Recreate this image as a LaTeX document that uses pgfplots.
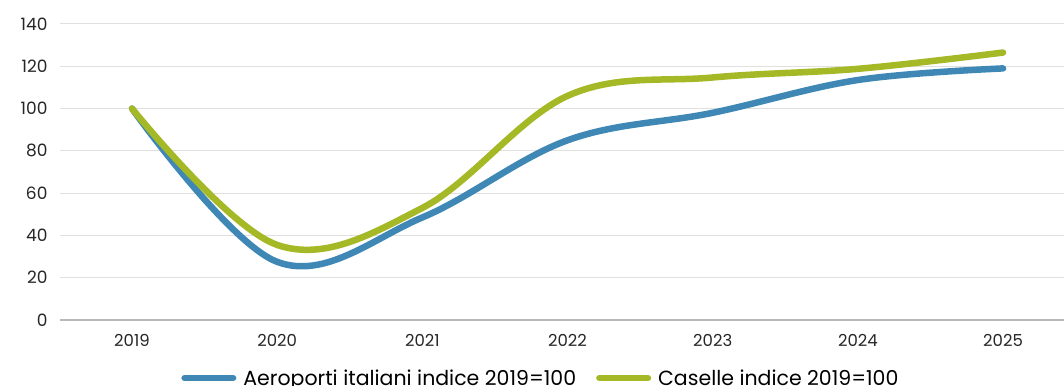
\documentclass[border=0pt]{standalone}
\usepackage{fontspec}
\setmainfont{Poppins}
\usepackage{pgfplots}
\pgfplotsset{compat=1.18}
\definecolor{cblue}{RGB}{63,136,181}
\definecolor{cgreen}{RGB}{165,184,37}
\begin{document}
\begin{tikzpicture}[x=1pt,y=1pt]
\begin{axis}[
  at={(60pt,65pt)}, anchor=south west,
  scale only axis, width=1004pt, height=296pt,
  xmin=-0.496, xmax=6.42, ymin=0, ymax=140,
  xtick={0,1,2,3,4,5,6},
  xticklabels={2019,2020,2021,2022,2023,2024,2025},
  ytick={0,20,40,60,80,100,120,140},
  axis lines*=left,
  x axis line style={-, color=black!28, line width=1.2pt},
  y axis line style={draw=none},
  major tick length=0pt,
  ymajorgrids,
  grid style={color=black!12, line width=1pt},
  /pgf/number format/assume math mode=true,
  yticklabel style={font=\fontsize{17}{20}\selectfont, color=black!85, anchor=east, xshift=-9pt},
  xticklabel style={font=\fontsize{16.5}{19}\selectfont, color=black!85, anchor=north, yshift=-11pt},
  legend style={at={(0.479,-0.196)}, anchor=center, draw=none, fill=none,
    font=\fontsize{20.5}{24}\selectfont, legend columns=2,
    /tikz/every even column/.append style={column sep=18pt}},
  legend image code/.code={\draw[#1, line width=6.5pt, line cap=round] (3.25pt,0pt) -- (51.75pt,0pt);},
  clip=false,
]
\addplot[cblue, line width=6.5pt, smooth, tension=0.6, line cap=round] coordinates {
(0,100) (1,27.5) (2,48.5) (3,85) (4,98) (5,113.5) (6,119)};
\addlegendentry{\hspace{5pt}Aeroporti italiani indice 2019=100}
\addplot[cgreen, line width=6.5pt, smooth, tension=0.6, line cap=round] coordinates {
(0,100) (1,35.5) (2,53) (3,106) (4,114.7) (5,118.8) (6,126.5)};
\addlegendentry{\hspace{5pt}Caselle indice 2019=100}
\end{axis}
\pgfresetboundingbox
\path[use as bounding box] (0,0) rectangle (1064,385);
\end{tikzpicture}
\end{document}
